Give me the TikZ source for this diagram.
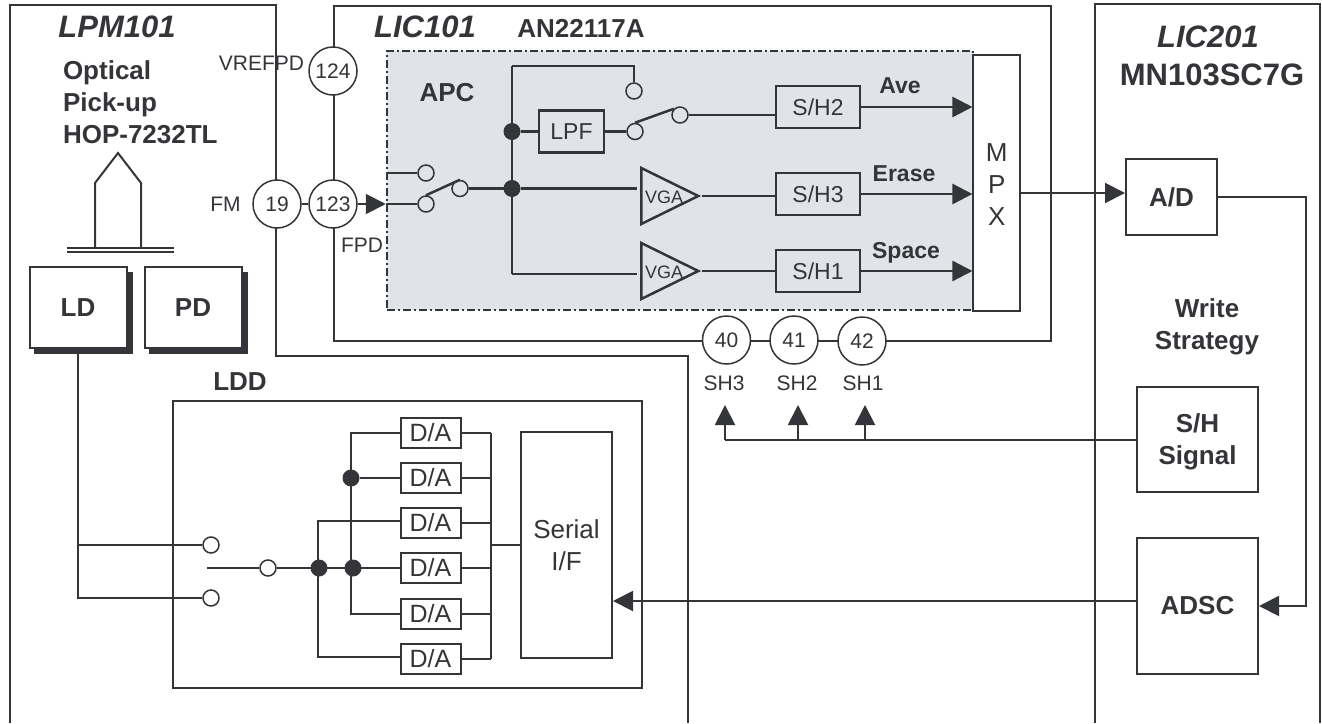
\documentclass[tikz,border=0pt]{standalone}
\usepackage{fontspec}
\setmainfont{Liberation Sans}
\usetikzlibrary{arrows.meta,calc,shapes.geometric}
\definecolor{ink}{HTML}{333538}
\definecolor{panel}{HTML}{E0E3E8}
\newcommand{\pxfont}[1]{\fontsize{#1}{32}\selectfont}
\tikzset{
  dob/.style={draw,fill=white,inner sep=0pt,align=center},
  fok/.style={dob,fill=panel,minimum width=84,minimum height=42,font=\pxfont{23},line width=2.5pt},
  da/.style={dob,minimum width=60,minimum height=30,font=\pxfont{25}},
  pin/.style={circle,draw,fill=white,inner sep=0pt,minimum size=48,font=\pxfont{21},line width=1.5pt},
  ures/.style={circle,draw,fill=white,inner sep=0pt,minimum size=16,line width=1.5pt},
  ures2/.style={ures,fill=panel},
  pont/.style={circle,fill=ink,inner sep=0pt,outer sep=0pt,minimum size=17},
  vga/.style={draw,fill=panel,isosceles triangle,isosceles triangle stretches,inner sep=0pt,
    minimum height=57,minimum width=56,anchor=lower side},
  cim/.style={font=\pxfont{31}\bfseries\itshape},
  fej/.style={font=\pxfont{26}\bfseries,align=center},
  jel/.style={font=\pxfont{23}\bfseries},
  lab/.style={font=\pxfont{21}},
  nyil/.style={-{Triangle[length=20pt,width=20pt]}},
}
\begin{document}
\begin{tikzpicture}[x=1pt,y=-1pt,color=ink,line width=2pt]
  \useasboundingbox (0,0) rectangle (1322,723);
  % outer frames
  \draw (10,723) -- (10,5) -- (276,5) -- (276,356) -- (688,356) -- (688,723);
  \draw (1095,723) -- (1095,4) -- (1320,4) -- (1320,723);
  \node[dob,fill=none,minimum width=717,minimum height=335] (lic) at (692.5,173.5) {};
  \node[cim] (lpmname) at (117,27) {LPM101};
  \node[cim] (licname) at (425,27) {LIC101};
  \node[fej] (anname) at (581,28) {AN22117A};
  \node[cim] (lictwo) at (1208,37) {LIC201};
  \node[font=\pxfont{31}\bfseries] (mnname) at (1212,75) {MN103SC7G};
  \node[fej,align=left,anchor=north west,inner sep=0pt] (optname) at (62,60) {Optical\\Pick-up\\HOP-7232TL};
  % pick-up
  \draw (95,247) -- (95,183) -- (118,153) -- (141,183) -- (141,247);
  \draw (67,248) -- (174,248);
  \draw (67,252) -- (174,252);
  \fill (34,272) rectangle (133,354);
  \fill (149,272) rectangle (248,354);
  \node[dob,minimum width=97,minimum height=81,fej] (ld) at (78,307.5) {LD};
  \node[dob,minimum width=97,minimum height=81,fej] (pd) at (193,307.5) {PD};
  % APC block
  \node[dob,fill=panel,minimum width=586,minimum height=259,line width=2.5pt,
    dash pattern=on 8pt off 3pt on 2pt off 3pt] (apc) at (680,180.5) {};
  \node[dob,minimum width=46.5,minimum height=256] (mpx) at (996.7,183) {};
  \node[font=\pxfont{26},align=center] (mpxname) at (996.7,185) {M\\P\\X};
  \node[fej] (apcname) at (447,93) {APC};
  \begin{scope}[line width=2.5pt]
    \node[ures2] (swa) at (426,173) {};
    \node[ures2] (swb) at (426,204) {};
    \node[ures2] (swc) at (460,188.5) {};
    \node[ures2] (swd) at (634,91) {};
    \node[ures2] (swe) at (635,131.5) {};
    \node[ures2] (swf) at (680,115) {};
    \node[fok,minimum width=65] (lpf) at (571.5,131.5) {LPF};
    \node[fok] (shtwo) at (818,107) {S/H2};
    \node[fok] (shthree) at (818,194) {S/H3};
    \node[fok] (shone) at (818,271) {S/H1};
    \node[vga] (vgaa) at (640,196) {};
    \node[vga] (vgab) at (640,271) {};
    \node[font=\pxfont{18}] (vgaaname) at (664,197) {VGA};
    \node[font=\pxfont{18}] (vgabname) at (664,272) {VGA};
    \node[pont] (jup) at (512,131.5) {};
    \node[pont] (jdn) at (512,188.5) {};
    \coordinate (jtop) at (512,66);
    \coordinate (jbot) at (512,274);
    \draw (swa -| apc.west) -- (swa);
    \draw (swb -| apc.west) -- (swb);
    \draw (swb.north) -- (swc.north);
    \draw (swc) -- (jdn);
    \draw (jtop) -- (jbot);
    \draw (jtop) -| (swd);
    \draw (jup) -- (lpf);
    \draw (lpf) -- (swe);
    \draw (swe.north) -- (swf.north west);
    \draw (swf) -- (swf -| shtwo.west);
    \draw (jdn) -- ($(jdn -| vgaa.lower side)+(-3,0)$);
    \draw (jbot) -- ($(jbot -| vgab.lower side)+(-3,0)$);
    \draw (vgaa.apex) -- (vgaa.apex -| shthree.west);
    \draw (vgab.apex) -- (vgab.apex -| shone.west);
    \draw[nyil] (shtwo) -- (shtwo -| mpx.west);
    \draw[nyil] (shthree) -- (shthree -| mpx.west);
    \draw[nyil] (shone) -- (shone -| mpx.west);
  \end{scope}
  \node[jel] (avename) at (900,86) {Ave};
  \node[jel] (erasename) at (904,174) {Erase};
  \node[jel] (spacename) at (906,253) {Space};
  % pins
  \node[pin] (pvref) at (333,71) {124};
  \node[pin] (pfm) at (277,204) {19};
  \node[pin] (pfpd) at (333,204) {123};
  \node[pin] (pff) at (726.5,340) {40};
  \node[pin] (pfo) at (794,340) {41};
  \node[pin] (pft) at (862,341) {42};
  \draw (pfm) -- (pfpd);
  \draw[nyil] (pfpd) -- (swb -| apc.west);
  \node[lab] (vrefname) at (261.5,63) {VREFPD};
  \node[lab] (fmname) at (225.5,204) {FM};
  \node[lab] (fpdname) at (362,245) {FPD};
  \node[lab] (shthreename) at (724,383) {SH3};
  \node[lab] (shtwoname) at (797,383) {SH2};
  \node[lab] (shonename) at (863,383) {SH1};
  % LIC201
  \node[dob,minimum width=91,minimum height=76,fej] (ad) at (1171.5,197) {A/D};
  \node[dob,minimum width=121,minimum height=105] (shsig) at (1197.5,439.5) {};
  \node[fej] (shsigname) at (1197.5,442) {S/H\\Signal};
  \node[dob,minimum width=121,minimum height=136,fej] (adsc) at (1197.5,606) {ADSC};
  \node[fej] (wsname) at (1207,327) {Write\\Strategy};
  \coordinate (shc) at (725,439.5);
  \coordinate (shb) at (798,439.5);
  \coordinate (sha) at (865,439.5);
  \coordinate (sht) at (725,405);
  \draw[nyil] (mpx.east |- 0,193) -- (ad.west |- 0,193);
  \draw[nyil] (ad) -- (1306,197) -- (1306,606) -- (adsc.east |- 0,606);
  \draw (shsig) -- (shc);
  \draw[nyil] (shc) -- (sht);
  \draw[nyil] (shb) -- (sht -| shb);
  \draw[nyil] (sha) -- (sht -| sha);
  % LDD
  \node[dob,fill=none,minimum width=469,minimum height=287] (ldd) at (407.5,544.5) {};
  \node[fej] (lddname) at (240,382) {LDD};
  \node[dob,minimum width=91,minimum height=226,font=\pxfont{26}] (serial) at (566.5,545) {Serial\\I/F};
  \foreach \n/\y in {1/433,2/478,3/523,4/568,5/614,6/659}
    \node[da] (da\n) at (430.5,\y) {D/A};
  \coordinate (busa) at (491,433);
  \coordinate (busb) at (491,659);
  \foreach \n in {1,...,6}
    \draw (da\n) -- (da\n -| busa);
  \draw (busa) -- (busb);
  \draw (serial.west) -- (serial.west -| busa);
  \node[ures] (ldda) at (211,545) {};
  \node[ures] (lddb) at (211,598) {};
  \node[ures] (lddc) at (268,568) {};
  \node[pont] (jla) at (351,478) {};
  \node[pont] (jlb) at (353,568) {};
  \node[pont] (jlc) at (319,568) {};
  \coordinate (lddfree) at (207,568);
  \coordinate (veca) at (351,433);
  \coordinate (vecb) at (351,614);
  \coordinate (vecc) at (318,521);
  \coordinate (vecd) at (318,657);
  \draw (lddfree) -- (lddc);
  \draw (lddc) -- (da4);
  \draw (da1) -- (veca) -- (vecb) -- (da5);
  \draw (jla) -- (da2);
  \draw (da3.west |- vecc) -- (vecc) -- (vecd) -- (da6.west |- vecd);
  \draw (ld.south) |- (ldda);
  \draw (ld.south) |- (lddb);
  \draw[nyil] (adsc.west |- 0,601) -- (serial.east |- 0,601);
\end{tikzpicture}
\end{document}
